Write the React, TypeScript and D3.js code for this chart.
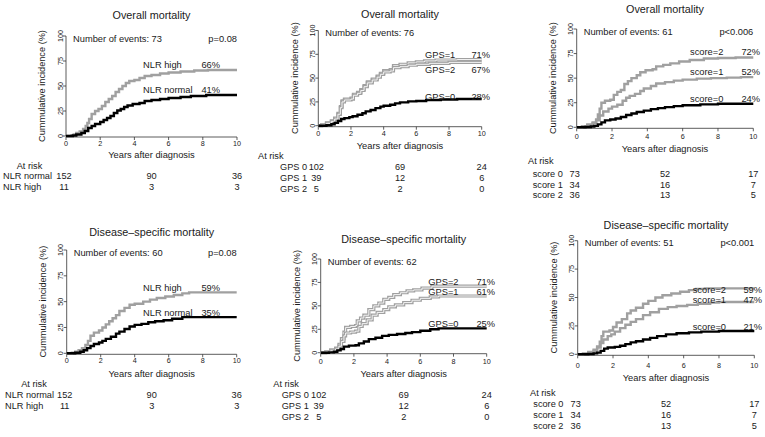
import React from "react";
import * as d3 from "d3";

type Pt = [number, number];

const yearTicks = [0, 2, 4, 6, 8, 10];
const pctTicks = [0, 25, 50, 75, 100];
const riskYears = [0, 5, 10];

// overall mortality - NLR
const osNlrHigh: Pt[] = [[0,0],[0.3,0.6],[0.45,1.5],[0.6,3],[0.8,4.5],[1.0,7],[1.15,10],[1.25,13],[1.35,17],[1.5,22],[1.7,25],[1.9,27],[2.1,30],[2.3,34],[2.5,37],[2.7,40],[2.9,44],[3.1,47],[3.3,50],[3.5,53],[3.7,55],[4.0,56],[4.3,58],[4.6,60],[5.0,61],[5.5,62.5],[6.0,63.5],[6.7,64.5],[7.5,65.5],[8.3,66]];
const osNlrNormal: Pt[] = [[0,0],[0.4,0.5],[0.6,1.5],[0.9,3],[1.1,5],[1.3,8],[1.5,10],[1.7,12],[2.0,14],[2.2,16],[2.4,18],[2.6,20],[2.8,23],[3.0,25.5],[3.2,27],[3.4,29],[3.6,30.5],[3.9,32],[4.3,33],[4.6,35],[5.0,36],[5.5,37],[6.0,38],[6.7,39],[7.3,40],[8.2,41]];

// overall mortality - GPS
const osGps1: Pt[] = [[0,0],[0.2,1],[0.5,3],[0.8,5],[1.0,8],[1.2,13],[1.35,20],[1.45,26],[1.6,28],[2.0,29],[2.15,33],[2.4,35],[2.6,38],[2.8,42],[3.0,46],[3.3,49],[3.6,52],[3.8,55],[4.0,58],[4.4,59],[4.6,63],[5.0,64.5],[5.5,66],[6.0,67],[6.5,68],[7.2,69],[8.5,69.5]];
const osGps2: Pt[] = [[0,0],[0.2,0.5],[0.5,2.5],[0.8,4.5],[1.0,7],[1.2,12],[1.35,19],[1.45,25],[1.6,27],[2.0,28],[2.15,32],[2.4,34],[2.6,37],[2.8,41],[3.0,45],[3.3,48],[3.6,51],[3.8,54],[4.0,56.5],[4.4,57.5],[4.6,61],[5.0,62],[5.5,63.5],[6.0,64.5],[6.8,65.5],[8.0,66.5]];
const osGps0: Pt[] = [[0,0],[0.5,0.5],[0.8,1.5],[1.0,3],[1.2,5],[1.4,7],[1.6,8],[1.9,9],[2.1,10],[2.4,11.5],[2.7,13],[2.9,15],[3.2,16.5],[3.5,18.5],[3.8,20],[4.0,21],[4.4,22],[4.7,23.5],[5.0,24.5],[5.5,25.5],[6.0,26],[6.6,27],[7.5,27.5],[8.5,28]];

// overall mortality - score
const osScore2: Pt[] = [[0,0],[0.3,1],[0.6,3],[0.9,5],[1.1,8],[1.2,13],[1.3,19],[1.4,25],[1.6,27],[1.9,28],[2.1,33],[2.3,36],[2.5,38],[2.7,44],[2.9,47],[3.1,50],[3.4,53],[3.6,56],[3.9,58],[4.3,59],[4.5,62],[4.9,63.5],[5.3,65],[5.8,67],[6.4,68.5],[7.2,70],[8.0,70.5],[9.0,71]];
const osScore1: Pt[] = [[0,0],[0.3,0.5],[0.6,2],[0.9,4],[1.1,7],[1.3,12],[1.5,16],[1.8,19],[2.0,21],[2.3,23],[2.6,27],[2.8,30],[3.0,32],[3.3,34],[3.6,37],[3.8,39.5],[4.2,42],[4.5,44.5],[5.0,46],[5.5,47.5],[6.0,48.5],[6.8,49.5],[7.6,50],[8.5,50.5],[9.3,51]];
const osScore0: Pt[] = [[0,0],[0.5,0.3],[0.8,0.8],[1.0,1.5],[1.2,3],[1.4,5],[1.6,7],[1.9,8],[2.2,9],[2.5,10.5],[2.8,12.5],[3.1,14],[3.4,15.5],[3.8,17],[4.2,18.5],[4.6,19.5],[5.0,20.5],[5.5,21.5],[6.0,22.5],[7.0,23.3],[8.0,24]];

// disease-specific mortality - NLR
const dsNlrHigh: Pt[] = [[0,0],[0.3,0.5],[0.5,1.5],[0.7,3],[0.9,5],[1.1,8],[1.25,12],[1.4,17],[1.6,20],[1.9,22],[2.1,25],[2.3,28],[2.5,31],[2.7,34],[2.9,37],[3.1,41],[3.4,44],[3.7,47],[4.0,48],[4.5,50],[4.9,52],[5.3,53.5],[5.8,55],[6.3,56.5],[6.8,58],[7.2,59]];
const dsNlrNormal: Pt[] = [[0,0],[0.5,0.5],[0.8,1.5],[1.0,3],[1.2,5],[1.4,7],[1.6,9],[1.9,10.5],[2.1,12],[2.3,14],[2.6,16],[2.9,19],[3.1,21],[3.4,23.5],[3.7,26],[4.0,27.5],[4.4,28.5],[4.8,30],[5.2,31],[5.7,32],[6.2,33.5],[6.8,35]];

// disease-specific mortality - GPS
const dsGps2: Pt[] = [[0,0],[0.3,1],[0.6,3],[0.9,5],[1.1,9],[1.25,15],[1.4,22],[1.5,27],[1.8,28],[2.1,29],[2.2,34],[2.4,37],[2.6,40],[2.9,46],[3.2,50],[3.5,53],[3.8,57],[4.1,59],[4.4,62],[4.8,64],[5.2,66],[5.6,67],[6.1,69],[6.7,71]];
const dsGps1: Pt[] = [[0,0],[0.3,0.5],[0.6,2],[0.9,4],[1.1,7],[1.25,12],[1.4,18],[1.5,21],[1.8,22],[2.1,23],[2.3,28],[2.5,31],[2.8,35],[3.1,40],[3.4,43],[3.8,46],[4.1,49],[4.5,51],[5.0,53.5],[5.5,56],[6.0,58],[6.6,59.5],[7.1,60.5]];
const dsGps0: Pt[] = [[0,0],[0.5,0.3],[0.8,1],[1.0,2.5],[1.2,4],[1.4,6.5],[1.7,7.5],[2.1,8],[2.3,10],[2.6,12],[2.9,14.5],[3.3,16],[3.7,18],[4.1,19],[4.6,20],[5.1,21],[5.5,22],[6.0,23.5],[6.6,25],[7.1,26]];

// disease-specific mortality - score
const dsScore2: Pt[] = [[0,0],[0.3,0.5],[0.6,2],[0.9,4],[1.1,7],[1.25,11],[1.35,16],[1.45,20],[1.8,21],[2.0,24],[2.2,28],[2.5,31],[2.8,36],[3.0,38.5],[3.3,41],[3.7,44.5],[4.0,47],[4.4,50],[4.8,52],[5.3,53.5],[5.8,55],[6.3,56.5],[6.7,57.5],[7.2,58]];
const dsScore1: Pt[] = [[0,0],[0.3,0.5],[0.6,1.5],[0.9,3],[1.1,6],[1.3,10],[1.45,13],[1.7,16],[1.9,17.5],[2.1,20],[2.4,23],[2.7,26],[3.0,28.5],[3.3,31],[3.7,34.5],[4.1,37],[4.6,40],[5.1,41.5],[5.6,42.5],[6.2,43.5],[6.8,44.5],[7.5,45.5],[8.0,46]];
const dsScore0: Pt[] = [[0,0],[0.6,0.3],[0.9,0.8],[1.1,1.5],[1.3,3],[1.5,5],[1.7,6],[2.1,6.5],[2.4,7.5],[2.7,9],[3.0,10.5],[3.3,11.5],[3.7,13],[4.1,14.5],[4.5,16],[5.0,17.5],[5.6,18.5],[6.3,19.3],[7.0,20],[8.0,20.5]];

const nlrNames = ["NLR normal", "NLR high"];
const gpsNames = ["GPS 0", "GPS 1", "GPS 2"];
const scoreNames = ["score 0", "score 1", "score 2"];
const nlrRisk = [[152, 90, 36], [11, 3, 3]];
const gpsRisk = [[102, 69, 24], [39, 12, 6], [5, 2, 0]];
const scoreRisk = [[73, 52, 17], [34, 16, 7], [36, 13, 5]];

const GRAY = "#a0a0a0";
const INK = "#1a1a1a";
const FONT = "'Liberation Sans', Arial, Helvetica, sans-serif";

const panels = [
  {
    title: "Overall mortality", events: 73, p: "p=0.08",
    x0: 66, x1: 237, y0: 136, y100: 36, titleY: 19, tickDy: 9.5, xTitleDy: 22,
    curves: [
      { name: "NLR high", pct: "66%", data: osNlrHigh, color: GRAY, hollow: false, dy: -2.3 },
      { name: "NLR normal", pct: "41%", data: osNlrNormal, color: "#000", hollow: false, dy: -2 },
    ],
    nameX: 143, pctX: 220,
    riskHead: { x: 29.5, y: 168.5, anchor: "middle" }, rowX: 3, rowY: 179, rowGap: 10.5,
    rowNames: nlrNames, risk: nlrRisk,
  },
  {
    title: "Overall mortality", events: 76, p: "",
    x0: 318.3, x1: 481.7, y0: 125.7, y100: 30.5, titleY: 18, tickDy: 10, xTitleDy: 23.5,
    curves: [
      { name: "GPS=1", pct: "71%", data: osGps1, color: GRAY, hollow: true, dy: -1.2 },
      { name: "GPS=2", pct: "67%", data: osGps2, color: GRAY, hollow: true, dy: 10.5 },
      { name: "GPS=0", pct: "28%", data: osGps0, color: "#000", hollow: false, dy: 1 },
    ],
    nameX: 425, pctX: 490,
    riskHead: { x: 258, y: 159, anchor: "start" }, rowX: 280, rowY: 170, rowGap: 11,
    rowNames: gpsNames, risk: gpsRisk,
  },
  {
    title: "Overall mortality", events: 61, p: "p<0.006",
    x0: 576.7, x1: 753.3, y0: 127.3, y100: 29, titleY: 13, tickDy: 12, xTitleDy: 24.5,
    curves: [
      { name: "score=2", pct: "72%", data: osScore2, color: GRAY, hollow: false, dy: -3 },
      { name: "score=1", pct: "52%", data: osScore1, color: GRAY, hollow: false, dy: -2.2 },
      { name: "score=0", pct: "24%", data: osScore0, color: "#000", hollow: false, dy: -2 },
    ],
    nameX: 690, pctX: 760,
    riskHead: { x: 528, y: 164, anchor: "start" }, rowX: 532.7, rowY: 177, rowGap: 10.5,
    rowNames: scoreNames, risk: scoreRisk,
  },
  {
    title: "Disease\u2013specific mortality", events: 60, p: "p=0.08",
    x0: 66.7, x1: 236.7, y0: 353.3, y100: 250, titleY: 235.5, tickDy: 10, xTitleDy: 23.5,
    curves: [
      { name: "NLR high", pct: "59%", data: dsNlrHigh, color: GRAY, hollow: false, dy: -1 },
      { name: "NLR normal", pct: "35%", data: dsNlrNormal, color: "#000", hollow: false, dy: -1.5 },
    ],
    nameX: 143, pctX: 220,
    riskHead: { x: 34, y: 387, anchor: "middle" }, rowX: 5, rowY: 398, rowGap: 11,
    rowNames: nlrNames, risk: nlrRisk,
  },
  {
    title: "Disease\u2013specific mortality", events: 62, p: "",
    x0: 320.7, x1: 486.7, y0: 352.7, y100: 259, titleY: 243, tickDy: 11, xTitleDy: 24,
    curves: [
      { name: "GPS=2", pct: "71%", data: dsGps2, color: GRAY, hollow: true, dy: -1 },
      { name: "GPS=1", pct: "61%", data: dsGps1, color: GRAY, hollow: true, dy: -1.5 },
      { name: "GPS=0", pct: "25%", data: dsGps0, color: "#000", hollow: false, dy: -1.5 },
    ],
    nameX: 428.3, pctX: 495,
    riskHead: { x: 273.3, y: 387, anchor: "start" }, rowX: 281.7, rowY: 398, rowGap: 11.2,
    rowNames: gpsNames, risk: gpsRisk,
  },
  {
    title: "Disease\u2013specific mortality", events: 51, p: "p<0.001",
    x0: 577.7, x1: 754.3, y0: 354.3, y100: 240.7, titleY: 229, tickDy: 13.5, xTitleDy: 27,
    curves: [
      { name: "score=2", pct: "59%", data: dsScore2, color: GRAY, hollow: false, dy: 5 },
      { name: "score=1", pct: "47%", data: dsScore1, color: GRAY, hollow: false, dy: 1 },
      { name: "score=0", pct: "21%", data: dsScore0, color: "#000", hollow: false, dy: -1 },
    ],
    nameX: 692.7, pctX: 762,
    riskHead: { x: 530, y: 395.5, anchor: "start" }, rowX: 533.3, rowY: 407, rowGap: 11,
    rowNames: scoreNames, risk: scoreRisk,
  },
];

function Panel({ p }: { p: (typeof panels)[number] }) {
  const x = d3.scaleLinear().domain([0, 10]).range([p.x0, p.x1]);
  const y = d3.scaleLinear().domain([0, 100]).range([p.y0, p.y100]);
  const line = d3
    .line<Pt>()
    .x((d) => x(d[0]))
    .y((d) => y(d[1]))
    .curve(d3.curveStepAfter);
  const full = (d: Pt[]): Pt[] => d.concat([[10, d[d.length - 1][1]]]);
  const midX = (p.x0 + p.x1) / 2;
  const midY = (p.y0 + p.y100) / 2;

  return (
    <g fontFamily={FONT} fill={INK}>
      <text x={midX} y={p.titleY} textAnchor="middle" fontSize={10.8}>{p.title}</text>
      <text x={p.x0 + 7} y={p.y100 + 5.5} fontSize={9.3}>Number of events: {p.events}</text>
      {p.p && (
        <text x={p.x1} y={p.y100 + 5.5} textAnchor="end" fontSize={9.3}>{p.p}</text>
      )}

      {/* axes */}
      <line x1={p.x0} x2={p.x0} y1={y(0)} y2={y(100)} stroke="#333" strokeWidth={0.8} />
      <line x1={x(0)} x2={x(10)} y1={p.y0 + 1} y2={p.y0 + 1} stroke="#333" strokeWidth={0.8} />
      {pctTicks.map((t) => (
        <g key={"y" + t}>
          <line x1={p.x0 - 3} x2={p.x0} y1={y(t)} y2={y(t)} stroke="#333" strokeWidth={0.8} />
          <text
            transform={`translate(${p.x0 - 6},${y(t)}) rotate(-90)`}
            textAnchor="middle"
            dy="0.35em"
            fontSize={7.2}
          >
            {t}
          </text>
        </g>
      ))}
      {yearTicks.map((t) => (
        <g key={"x" + t}>
          <line x1={x(t)} x2={x(t)} y1={p.y0 + 1} y2={p.y0 + 4} stroke="#333" strokeWidth={0.8} />
          <text x={x(t)} y={p.y0 + p.tickDy} textAnchor="middle" fontSize={7.2}>{t}</text>
        </g>
      ))}
      <text
        transform={`translate(${p.x0 - 24},${midY}) rotate(-90)`}
        textAnchor="middle"
        dy="0.35em"
        fontSize={9.2}
      >
        Cummulative incidence (%)
      </text>
      <text x={midX} y={p.y0 + p.xTitleDy} textAnchor="middle" fontSize={9.3}>Years after diagnosis</text>

      {/* curves */}
      {p.curves.map((c, i) => (
        <g key={"c" + i}>
          <path d={line(full(c.data)) || ""} fill="none" stroke={c.color} strokeWidth={c.hollow ? 3.2 : 2.4} />
          {c.hollow && (
            <path d={line(full(c.data)) || ""} fill="none" stroke="#f4f4f4" strokeWidth={1} />
          )}
        </g>
      ))}
      {p.curves.map((c, i) => {
        const ly = y(c.data[c.data.length - 1][1]) + c.dy;
        return (
          <g key={"l" + i} fontSize={9.3}>
            <text x={p.nameX} y={ly}>{c.name}</text>
            <text x={p.pctX} y={ly} textAnchor="end">{c.pct}</text>
          </g>
        );
      })}

      {/* at risk table */}
      <text x={p.riskHead.x} y={p.riskHead.y} textAnchor={p.riskHead.anchor as any} fontSize={9.2}>At risk</text>
      {p.rowNames.map((n, r) => (
        <g key={"r" + r} fontSize={9.2}>
          <text x={p.rowX} y={p.rowY + r * p.rowGap}>{n}</text>
          {p.risk[r].map((v, k) => (
            <text key={k} x={x(riskYears[k]) - (k === 0 ? 2 : 0)} y={p.rowY + r * p.rowGap} textAnchor="middle">
              {v}
            </text>
          ))}
        </g>
      ))}
    </g>
  );
}

export default function App() {
  return (
    <svg
      width={765}
      height={437}
      style={{ position: "absolute", left: 0, top: 0, background: "#fff" }}
    >
      <rect width={765} height={437} fill="#fff" />
      {panels.map((p, i) => (
        <Panel key={i} p={p} />
      ))}
    </svg>
  );
}
